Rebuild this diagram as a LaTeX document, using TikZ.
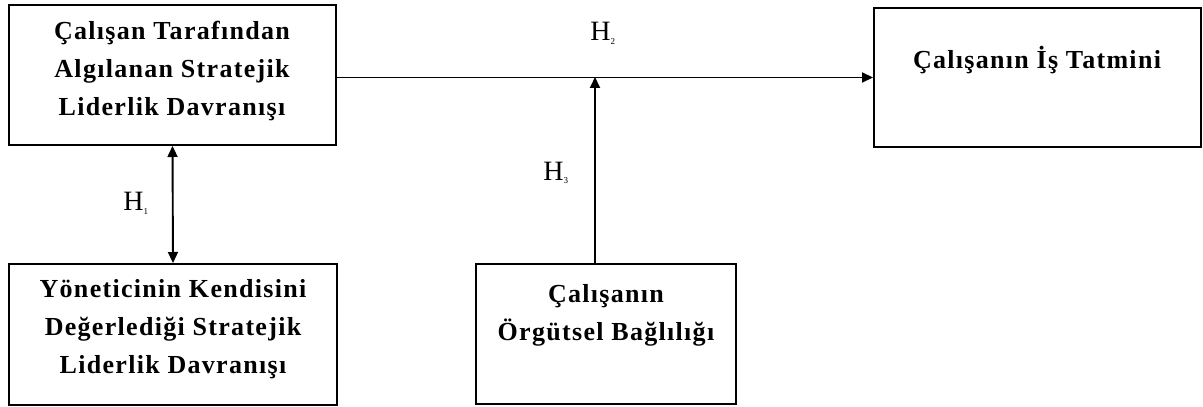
\documentclass[tikz,border=0pt]{standalone}
\usepackage{fontspec}
\setmainfont{Liberation Serif}
\newfontfamily\boxfont[LetterSpace=5]{Liberation Serif}
\usetikzlibrary{arrows.meta}
\begin{document}
\begin{tikzpicture}[x=1pt,y=1pt,
  box/.style={draw, line width=2pt, inner sep=0pt},
  btext/.style={align=center, font=\boxfont\fontsize{26}{38}\selectfont\bfseries},
  hlab/.style={font=\fontsize{28}{30}\selectfont},
  conn/.style={line width=1.9pt, -{Triangle[length=11pt,width=10pt]}},
  conn2/.style={line width=1.9pt, {Triangle[length=11pt,width=10pt]}-{Triangle[length=11pt,width=10pt]}}]
\useasboundingbox (0,0) rectangle (1203,407);
% boxes
\node[box, minimum width=327pt, minimum height=140pt] (b1) at (172.5,332) {};
\node[box, minimum width=328pt, minimum height=141pt] (b2) at (173,72.5) {};
\node[box, minimum width=260pt, minimum height=140pt] (b3) at (606,73) {};
\node[box, minimum width=327pt, minimum height=139pt] (b4) at (1037.5,329.5) {};
% texts
\node[btext] (t1) at (172,336) {Çalışan Tarafından\\Algılanan Stratejik\\Liderlik Davranışı};
\node[btext] (t2) at (173,78) {Yöneticinin Kendisini\\Değerlediği Stratejik\\Liderlik Davranışı};
\node[btext] (t3) at (606,92) {Çalışanın\\Örgütsel Bağlılığı};
\node[btext] (t4) at (1037,347) {Çalışanın İş Tatmini};
% labels
\node[hlab] (h1) at (136,204) {H\textsubscript{\fontsize{9}{9}\selectfont 1}};
\node[hlab] (h2) at (603,374) {H\textsubscript{\fontsize{9}{9}\selectfont 2}};
\node[hlab] (h3) at (556,234) {H\textsubscript{\fontsize{9}{9}\selectfont 3}};
% connectors
\coordinate (j) at (595,330);
\draw[conn] (b1.east |- b4.west) -- (b4.west);
\draw[conn] (b3.north -| j) -- (j);
\draw[conn2] (b1.south) -- (b2.north);
\end{tikzpicture}
\end{document}
